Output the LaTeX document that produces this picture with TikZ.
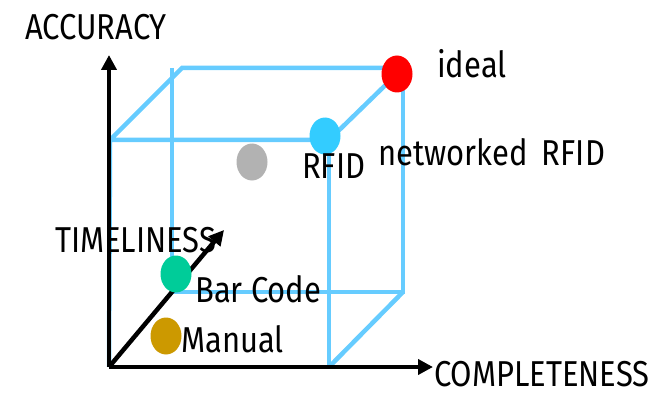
\documentclass[tikz,border=0pt]{standalone}
\usepackage{fontspec}
\setmainfont[FakeStretch=0.86]{Fira Sans}
\usetikzlibrary{arrows.meta,shapes.geometric}
\definecolor{edgeblue}{HTML}{66CCFF}
\definecolor{rfidblue}{HTML}{33CCFF}
\definecolor{dotgray}{HTML}{B2B2B2}
\definecolor{dotgreen}{HTML}{00CC99}
\definecolor{dotgold}{HTML}{CC9900}
\definecolor{dotred}{HTML}{FF0000}
\tikzset{
  edge/.style={draw=edgeblue, line width=4.5pt},
  axis/.style={draw=black, line width=4.5pt, -{Triangle[length=15pt,width=15pt]}},
  dot/.style={ellipse, minimum width=31pt, minimum height=37pt, inner sep=0pt, draw=none},
  lbl/.style={anchor=base west, inner sep=0pt, text depth=0pt, font=\fontsize{36}{42}\selectfont}
}
\begin{document}
\begin{tikzpicture}[x=1pt,y=-1pt]
\useasboundingbox (0,0) rectangle (669,393);
% cube corners
\coordinate (o)   at (109,367);
\coordinate (ftl) at (110,140);
\coordinate (ftr) at (329,140);
\coordinate (fbr) at (329,367);
\coordinate (btl) at (182,68);
\coordinate (btr) at (403,68);
\coordinate (bbr) at (403,292);
\coordinate (bbl) at (172,292);
\coordinate (bvt) at (172,68);
% axis ends
\coordinate (yend) at (109,55);
\coordinate (xend) at (433,367);
\coordinate (zend) at (224,230);

% cube edges
\draw[edge] (o) -- (ftl) -- (ftr) -- (btr) -- (btl) -- (ftl);
\draw[edge] (ftr) -- (fbr) -- (o);
\draw[edge] (bvt) -- (bbl) -- (bbr) -- (btr);
\draw[edge] (bbr) -- (fbr);

% axes
\draw[axis] (o) -- (yend);
\draw[axis] (o) -- (xend);
\draw[axis] (o) -- (zend);

% technology points
\node[dot, fill=dotred]   (ideal)   at (397,74)  {};
\node[dot, fill=rfidblue] (rfid)    at (325,136) {};
\node[dot, fill=dotgray]  (mid)     at (252,162) {};
\node[dot, fill=dotgreen] (barcode) at (176,274) {};
\node[dot, fill=dotgold]  (manual)  at (166,336) {};

% labels
\node[lbl] (lacc)  at (25,40)   {ACCURACY};
\node[lbl] (lcomp) at (434,386) {COMPLETENESS};
\node[lbl] (ltime) at (55,252)  {TIMELINESS};
\node[lbl] (lideal) at (437,78) {ideal};
\node[lbl] (lnet)  at (378,165) {networked\hspace{0.4em}RFID};
\node[lbl] (lrfid) at (302,178) {RFID};
\node[lbl] (lbar)  at (195,302) {Bar Code};
\node[lbl] (lman)  at (181,352) {Manual};
\end{tikzpicture}
\end{document}
